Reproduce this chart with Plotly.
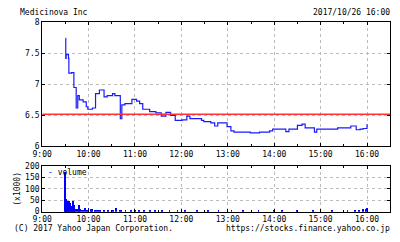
import plotly.graph_objects as go

DAY = "2017-10-26 "

price_times = ["09:30", "09:30:30", "09:31", "09:34", "09:34:30", "09:38", "09:41", "09:44", "09:46", "09:48",
               "09:53", "09:57", "09:59", "10:05", "10:09", "10:14", "10:20", "10:24", "10:31", "10:34",
               "10:39", "10:41", "10:43", "10:47", "10:56", "11:02", "11:06", "11:10", "11:19", "11:27",
               "11:34", "11:40", "11:46", "11:52", "12:01", "12:07", "12:11", "12:26", "12:29", "12:38",
               "12:43", "12:47", "12:51", "12:59", "13:04", "13:08", "13:18", "13:29", "13:41", "13:54",
               "13:58", "14:15", "14:19", "14:30", "14:36", "14:40", "14:51", "14:52", "14:55", "15:09",
               "15:22", "15:39", "15:45", "15:46", "15:51", "15:55", "16:00"]
price_values = [7.74, 7.42, 7.48, 7.42, 7.18, 7.19, 6.95, 6.62, 6.82, 6.75,
                6.72, 6.64, 6.60, 6.62, 6.85, 6.91, 6.80, 6.82, 6.85, 6.82,
                6.82, 6.45, 6.67, 6.69, 6.76, 6.73, 6.69, 6.60, 6.56, 6.54,
                6.49, 6.55, 6.50, 6.42, 6.43, 6.49, 6.45, 6.42, 6.40, 6.38,
                6.33, 6.38, 6.38, 6.32, 6.25, 6.23, 6.23, 6.22, 6.23, 6.25,
                6.28, 6.24, 6.28, 6.34, 6.36, 6.30, 6.30, 6.23, 6.28, 6.28,
                6.30, 6.33, 6.33, 6.27, 6.28, 6.29, 6.36]
prev_close = 6.52

vol_times = ["09:30", "09:31", "09:32", "09:33", "09:34", "09:35", "09:36", "09:37", "09:38", "09:39",
             "09:40", "09:41", "09:42", "09:43", "09:45", "09:47", "09:48", "09:49", "09:51", "09:53",
             "09:56", "09:58", "10:00", "10:03", "10:05", "10:08", "10:10", "10:12", "10:15", "10:20",
             "10:25", "10:32", "10:36", "10:40", "10:42", "10:48", "10:55", "11:00", "11:05", "11:12",
             "11:20", "11:26", "11:35", "11:45", "11:55", "12:05", "12:20", "12:35", "12:48", "13:00",
             "13:05", "13:20", "13:40", "14:00", "14:10", "14:30", "14:50", "15:00", "15:15", "15:35",
             "15:45", "15:50", "15:55", "15:58", "16:00"]
vol_values = [172, 56, 45, 31, 40, 45, 24, 38, 20, 24, 48, 31, 17, 12, 10, 8, 28, 10, 6, 5,
              14, 8, 14, 10, 12, 6, 8, 5, 6, 9, 5, 7, 17, 6, 4, 3, 4, 5, 4, 6,
              3, 5, 4, 6, 3, 4, 3, 5, 3, 7, 4, 3, 4, 5, 3, 4, 3, 5, 3, 4,
              6, 8, 12, 10, 14]

hour_ticks = ["09:00", "10:00", "11:00", "12:00", "13:00", "14:00", "15:00", "16:00"]

FONT = "DejaVu Sans Mono"
W, H = 400, 242

fig = go.Figure()
fig.add_trace(go.Scatter(x=[DAY + t for t in price_times], y=price_values, mode="lines",
                         line=dict(color="#1a1aff", width=1.2, shape="hv"),
                         xaxis="x", yaxis="y", showlegend=False))
fig.add_trace(go.Scatter(x=[DAY + "09:00", DAY + "16:30"], y=[prev_close, prev_close], mode="lines",
                         line=dict(color="#ff3333", width=1.5),
                         xaxis="x", yaxis="y", showlegend=False))
fig.add_trace(go.Bar(x=[DAY + t for t in vol_times], y=vol_values,
                     marker=dict(color="#0000ff", line=dict(width=0)), width=50000,
                     xaxis="x2", yaxis="y2", showlegend=False))

xr = [DAY + "09:00", DAY + "16:30"]
tickvals = [DAY + t for t in hour_ticks]
ticktext = [t.lstrip("0") for t in hour_ticks]
common_x = dict(range=xr, type="date", tickvals=tickvals, ticktext=ticktext,
                showline=True, linecolor="black", linewidth=1, mirror="ticks",
                ticks="inside", ticklen=3, tickcolor="black",
                showgrid=True, gridcolor="#bbbbbb", griddash="dot", gridwidth=1,
                minor=dict(dtick=1800000, ticks="inside", ticklen=2, tickcolor="black", showgrid=False),
                tickfont=dict(family=FONT, size=8, color="black"), zeroline=False)
common_y = dict(showline=True, linecolor="black", linewidth=1, mirror="ticks",
                ticks="inside", ticklen=3, tickcolor="black",
                showgrid=True, gridcolor="#bbbbbb", griddash="dot", gridwidth=1,
                tickfont=dict(family=FONT, size=8, color="black"), zeroline=False)

fig.update_layout(
    width=W, height=H, margin=dict(l=0, r=0, t=0, b=0),
    paper_bgcolor="white", plot_bgcolor="white", bargap=0,
    xaxis=dict(common_x, domain=[33 / W, 390 / W], anchor="y"),
    yaxis=dict(common_y, domain=[1 - 148 / H, 1 - 19 / H], range=[6, 8],
               tickvals=[6, 6.5, 7, 7.5, 8], ticktext=["6", "6.5", "7", "7.5", "8"], anchor="x"),
    xaxis2=dict(common_x, domain=[33 / W, 390 / W], anchor="y2"),
    yaxis2=dict(common_y, domain=[1 - 215.7 / H, 1 - 168.3 / H], range=[0, 200],
                tickvals=[0, 50, 100, 150, 200], anchor="x2",
                title=dict(text="(x1000)", font=dict(family=FONT, size=8, color="black"), standoff=3)),
    font=dict(family=FONT, size=8, color="black"),
)

def note(text, x, y, anchor="left"):
    fig.add_annotation(text=text, x=x / W, y=1 - y / H, xref="paper", yref="paper",
                       xanchor=anchor, yanchor="middle", showarrow=False, borderpad=0,
                       font=dict(family=FONT, size=8, color="black"))

note("Medicinova Inc", 9, 9)
note("2017/10/26 16:00", 391, 9, "right")
note("<span style='color:#0000ff'>-</span> volume", 38, 175)
note("(C) 2017 Yahoo Japan Corporation.", 3, 233)
note("https://stocks.finance.yahoo.co.jp", 391, 233, "right")

fig.write_html("out.html")
